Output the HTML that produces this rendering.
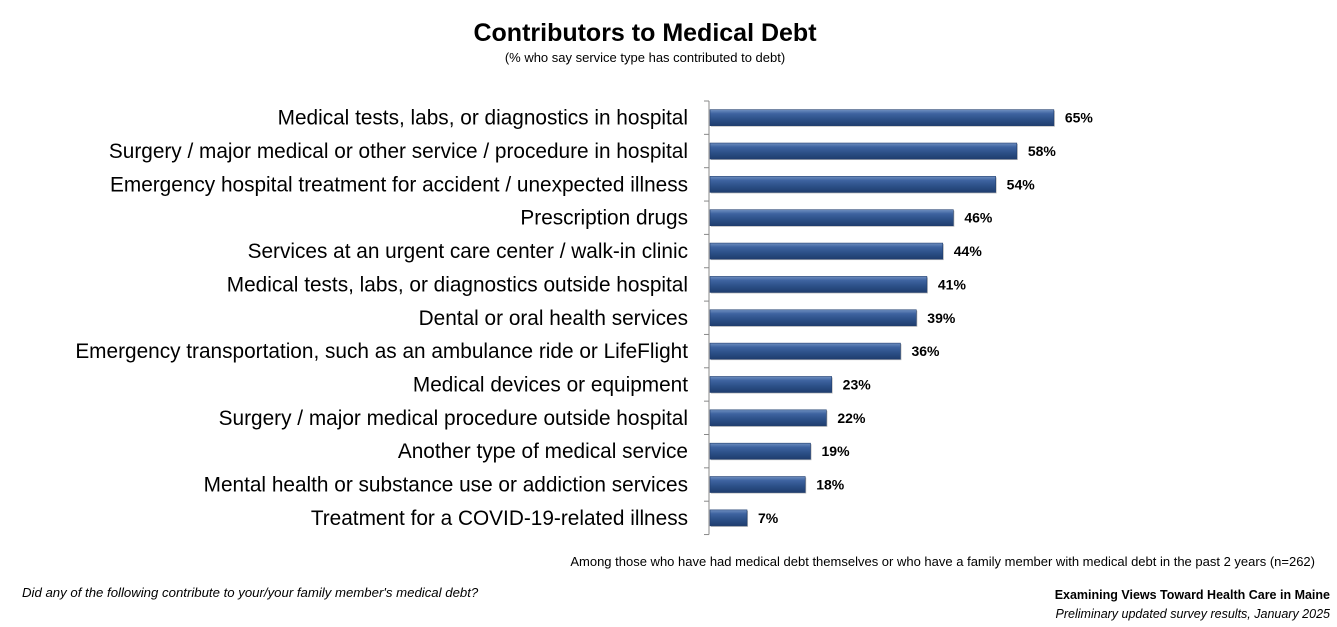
<!DOCTYPE html>
<html><head><meta charset="utf-8"><style>
body{margin:0;background:#fff;width:1337px;height:627px;overflow:hidden;font-family:"Liberation Sans",sans-serif}
svg{display:block}
</style></head><body>
<svg width="1337" height="627">
<defs>
<linearGradient id="bg" x1="0" y1="0" x2="0" y2="1">
<stop offset="0" stop-color="#6f8fc0"/><stop offset="0.25" stop-color="#3e63a0"/><stop offset="0.6" stop-color="#2c5088"/><stop offset="1" stop-color="#1f3d6e"/>
</linearGradient>
</defs>
<text x="645" y="41" text-anchor="middle" font-size="25" font-weight="bold" fill="#000">Contributors to Medical Debt</text>
<text x="645" y="62" text-anchor="middle" font-size="13" fill="#000">(% who say service type has contributed to debt)</text>
<g id="plot"></g>
<text x="1315" y="566" text-anchor="end" font-size="13" fill="#000">Among those who have had medical debt themselves or who have a family member with medical debt in the past 2 years (n=262)</text>
<text x="22" y="597" font-size="13.2" font-style="italic" fill="#000">Did any of the following contribute to your/your family member's medical debt?</text>
<text x="1330" y="599" text-anchor="end" font-size="12.5" font-weight="bold" fill="#000">Examining Views Toward Health Care in Maine</text>
<text x="1330" y="618" text-anchor="end" font-size="12.5" font-style="italic" fill="#000">Preliminary updated survey results, January 2025</text>
</svg>
<script>
const categories=["Medical tests, labs, or diagnostics in hospital","Surgery / major medical or other service / procedure in hospital","Emergency hospital treatment for accident / unexpected illness","Prescription drugs","Services at an urgent care center / walk-in clinic","Medical tests, labs, or diagnostics outside hospital","Dental or oral health services","Emergency transportation, such as an ambulance ride or LifeFlight","Medical devices or equipment","Surgery / major medical procedure outside hospital","Another type of medical service","Mental health or substance use or addiction services","Treatment for a COVID-19-related illness"];
const values=[65,58,54,46,44,41,39,36,23,22,19,18,7];
const valueLabels=["65%","58%","54%","46%","44%","41%","39%","36%","23%","22%","19%","18%","7%"];
const NS="http://www.w3.org/2000/svg";
const g=document.getElementById('plot');
const x0=710,pxPer=5.29,yTop=101,step=33.35,barH=16;
const xs=v=>x0+v*pxPer;
const yc=i=>yTop+step*(i+0.5);
function mk(t,a){const e=document.createElementNS(NS,t);for(const k in a)e.setAttribute(k,a[k]);g.appendChild(e);return e;}
const ax=mk('line',{x1:709,x2:709,y1:yTop,y2:yTop+step*categories.length,stroke:'#888','stroke-width':1});


for(let i=0;i<=categories.length;i++){const t=mk('line',{x1:704,x2:709,y1:yTop+step*i,y2:yTop+step*i,stroke:'#888'});

}
categories.forEach((c,i)=>{
const y=yc(i);
const l=mk('text',{x:688,y:y+7,'text-anchor':'end','font-size':20.8,fill:'#000'});l.textContent=c;


const w=xs(values[i])-x0;
const sh=mk('rect',{x:x0+1,y:y-barH/2+1,width:w,height:barH,fill:'#bbb'});


const b=mk('rect',{x:x0,y:y-barH/2,width:w,height:barH,fill:'url(#bg)',stroke:'#1f3d6e','stroke-width':0.6});


const v=mk('text',{x:xs(values[i])+11,y:y+5,'font-size':14,'font-weight':'bold',fill:'#000'});v.textContent=valueLabels[i];


});
</script>
</body></html>
